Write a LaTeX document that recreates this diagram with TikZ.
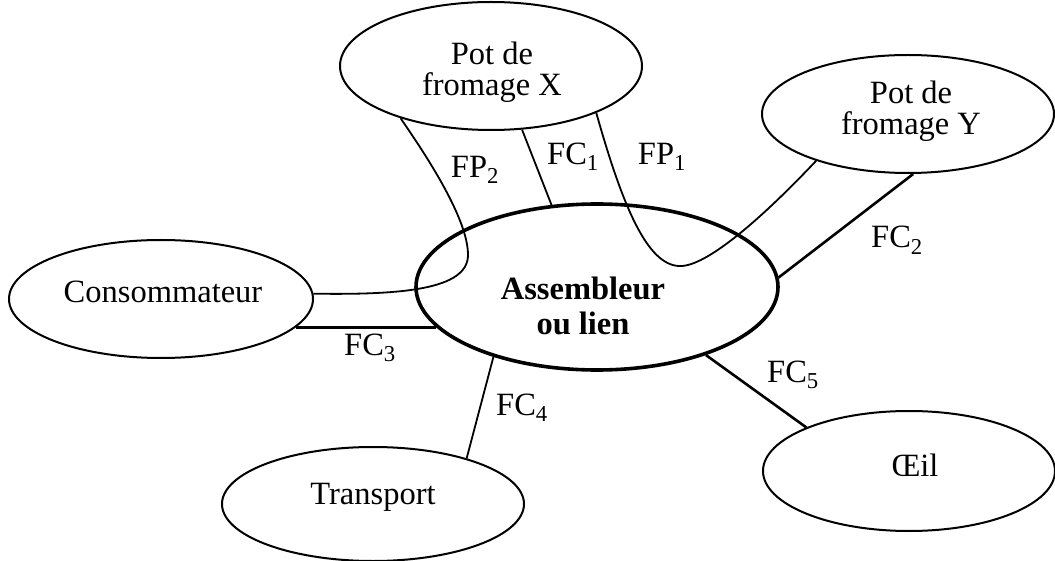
\documentclass[tikz,border=0pt]{standalone}
\usepackage{fontspec}
\setmainfont{Liberation Serif}
\usetikzlibrary{shapes.geometric}
\begin{document}
\begin{tikzpicture}[x=1pt,y=-1pt,
  every node/.style={font=\fontsize{32.5}{31}\selectfont},
  bubble/.style={draw, ellipse, inner sep=0pt, line width=2pt},
  hub/.style={draw, ellipse, inner sep=0pt, line width=3.6pt},
  link/.style={line width=1.8pt},
  heavylink/.style={line width=2.6pt},
  lbl/.style={inner sep=0pt}]
\useasboundingbox (0,0) rectangle (1055,561);

% functions' partners
\node[bubble, minimum width=302pt, minimum height=128pt] (px) at (491,66) {};
\node[align=center] (pxt) at (492,72) {Pot de\\fromage X};
\node[bubble, minimum width=292pt, minimum height=118pt] (py) at (908,114) {};
\node[align=center] (pyt) at (911,111) {Pot de\\fromage Y};
\node[bubble, minimum width=304pt, minimum height=118pt] (co) at (161,299) {};
\node at (163,292) (cot) {Consommateur};
\node[bubble, minimum width=302pt, minimum height=114pt] (tr) at (373,504) {};
\node at (373,497) (trt) {Transport};
\node[bubble, minimum width=292pt, minimum height=120pt] (oe) at (909,471) {};
\node at (915,465) (oet) {Œil};

% central element
\node[hub, minimum width=362pt, minimum height=166pt] (as) at (597,287) {};
\node[align=center, font=\fontsize{32.5}{35}\selectfont\bfseries] (ast) at (583,306) {Assembleur\\ou lien};

% functions
\draw[link] (px.-64) -- (as.119);
\draw[heavylink] (py.-85) -- (as.3);
\draw[heavylink] (co.-12) -- (co.-12 -| as.194);
\draw[link] (as.-146) -- (tr.26);
\draw[heavylink] (as.-32) -- (oe.157);
\draw[link] (px.210) .. controls (440,175) and (468,225) .. (468,255)
  .. controls (468,290) and (400,295) .. (co.2);
\draw[link] (px.-24) .. controls (625,215) and (650,268) .. (682,266)
  .. controls (710,264) and (765,215) .. (py.207);

% labels
\node[lbl] (lfp2) at (475,170) {FP\textsubscript{2}};
\node[lbl] (lfc1) at (573,157) {FC\textsubscript{1}};
\node[lbl] (lfp1) at (662,157) {FP\textsubscript{1}};
\node[lbl] (lfc2) at (897,240) {FC\textsubscript{2}};
\node[lbl] (lfc3) at (370,348) {FC\textsubscript{3}};
\node[lbl] (lfc4) at (522,408) {FC\textsubscript{4}};
\node[lbl] (lfc5) at (793,375) {FC\textsubscript{5}};
\end{tikzpicture}
\end{document}
